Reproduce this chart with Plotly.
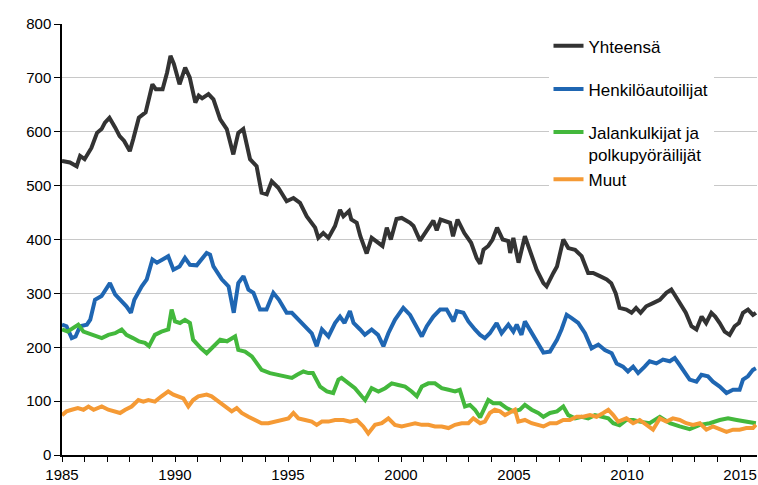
import plotly.graph_objects as go

# ---- data ----
t_total = [1985.0, 1985.35, 1985.65, 1985.8, 1986.0, 1986.15, 1986.3, 1986.55, 1986.75, 1986.9,
           1987.1, 1987.35, 1987.55, 1987.75, 1988.0, 1988.15, 1988.4, 1988.7, 1989.0, 1989.15,
           1989.45, 1989.65, 1989.8, 1989.95, 1990.2, 1990.45, 1990.65, 1990.9, 1991.05, 1991.2,
           1991.48, 1991.7, 1992.0, 1992.29, 1992.58, 1992.8, 1993.02, 1993.32, 1993.61, 1993.83,
           1994.06, 1994.28, 1994.57, 1994.94, 1995.24, 1995.53, 1995.83, 1996.2, 1996.34, 1996.56,
           1996.79, 1997.08, 1997.3, 1997.45, 1997.7, 1997.8, 1998.04, 1998.2, 1998.48, 1998.7,
           1998.8, 1999.18, 1999.37, 1999.55, 1999.8, 2000.03, 2000.4, 2000.55, 2000.84, 2001.14,
           2001.43, 2001.58, 2001.75, 2002.17, 2002.3, 2002.5, 2002.65, 2002.8, 2003.1, 2003.35,
           2003.5, 2003.65, 2003.86, 2004.05, 2004.25, 2004.5, 2004.75, 2004.83, 2004.97, 2005.2,
           2005.48, 2005.7, 2006.0, 2006.3, 2006.44, 2006.74, 2006.9, 2007.18, 2007.4, 2007.7,
           2007.99, 2008.28, 2008.5, 2008.8, 2009.1, 2009.3, 2009.5, 2009.67, 2009.97, 2010.2,
           2010.4, 2010.6, 2010.85, 2011.15, 2011.45, 2011.74, 2011.96, 2012.1, 2012.4, 2012.6,
           2012.85, 2013.07, 2013.3, 2013.5, 2013.73, 2013.9, 2014.1, 2014.32, 2014.54, 2014.76,
           2014.95, 2015.13, 2015.35, 2015.57, 2015.7]
v_total = [546, 543, 536, 555, 549, 558, 570, 598, 605, 617,
           626, 608, 592, 583, 564, 586, 626, 636, 688, 679,
           679, 710, 741, 726, 688, 719, 701, 654, 667, 662,
           670, 660, 623, 605, 558, 598, 605, 549, 536, 487,
           484, 508, 496, 471, 477, 468, 443, 422, 403, 412,
           403, 425, 455, 443, 453, 437, 431, 406, 374, 403,
           400, 388, 422, 400, 438, 440, 431, 425, 398, 417,
           435, 417, 437, 431, 406, 437, 425, 412, 394, 365,
           355, 381, 388, 400, 422, 400, 397, 375, 403, 357,
           406, 381, 344, 319, 313, 338, 350, 400, 384, 381,
           369, 338, 338, 332, 326, 319, 300, 273, 270, 264,
           273, 264, 276, 282, 288, 301, 307, 298, 276, 264,
           239, 233, 257, 245, 264, 257, 245, 229, 223, 239,
           245, 264, 270, 260, 264]

t_car = [1985.0, 1985.2, 1985.43, 1985.6, 1985.8, 1986.1, 1986.25, 1986.46, 1986.75, 1987.12,
         1987.35, 1987.64, 1987.85, 1988.05, 1988.2, 1988.53, 1988.75, 1989.0, 1989.2, 1989.45,
         1989.7, 1989.93, 1990.2, 1990.44, 1990.66, 1990.96, 1991.18, 1991.4, 1991.55, 1991.7,
         1992.07, 1992.37, 1992.6, 1992.8, 1993.03, 1993.25, 1993.47, 1993.76, 1994.05, 1994.35,
         1994.6, 1994.94, 1995.17, 1995.46, 1995.75, 1996.05, 1996.27, 1996.5, 1996.79, 1997.08,
         1997.3, 1997.5, 1997.74, 1997.9, 1998.19, 1998.4, 1998.7, 1998.98, 1999.22, 1999.44,
         1999.73, 2000.1, 2000.4, 2000.7, 2000.92, 2001.14, 2001.43, 2001.73, 2002.02, 2002.32,
         2002.47, 2002.76, 2002.98, 2003.27, 2003.5, 2003.71, 2003.93, 2004.23, 2004.45, 2004.75,
         2004.97, 2005.12, 2005.33, 2005.48, 2005.78, 2006.07, 2006.3, 2006.59, 2006.9, 2007.1,
         2007.33, 2007.55, 2007.84, 2008.14, 2008.43, 2008.73, 2009.02, 2009.32, 2009.54, 2009.82,
         2010.04, 2010.27, 2010.49, 2010.78, 2011.0, 2011.3, 2011.59, 2011.89, 2012.11, 2012.33,
         2012.55, 2012.77, 2013.07, 2013.29, 2013.58, 2013.8, 2014.1, 2014.4, 2014.69, 2014.98,
         2015.13, 2015.35, 2015.57, 2015.7]
v_car = [242, 239, 217, 220, 239, 242, 251, 288, 295, 319,
         298, 285, 276, 264, 288, 313, 326, 363, 357, 363,
         369, 344, 350, 366, 353, 352, 363, 375, 372, 350,
         326, 313, 264, 319, 332, 307, 301, 270, 270, 301,
         288, 264, 264, 251, 239, 226, 202, 233, 220, 245,
         257, 245, 267, 245, 233, 223, 233, 223, 202, 226,
         251, 273, 260, 239, 220, 239, 257, 270, 270, 248,
         267, 264, 248, 233, 223, 217, 226, 245, 226, 242,
         229, 242, 223, 248, 226, 208, 190, 192, 214, 233,
         260, 254, 245, 226, 198, 205, 195, 189, 170, 164,
         155, 164, 152, 164, 174, 170, 177, 174, 180, 167,
         155, 140, 136, 149, 146, 136, 127, 115, 121, 121,
         140, 146, 158, 161]

t_walk = [1985.0, 1985.25, 1985.5, 1985.72, 1985.95, 1986.17, 1986.45, 1986.76, 1987.05, 1987.35,
          1987.64, 1987.85, 1988.14, 1988.4, 1988.67, 1988.85, 1989.11, 1989.4, 1989.7, 1989.85,
          1990.0, 1990.22, 1990.44, 1990.66, 1990.8, 1991.03, 1991.15, 1991.4, 1991.6, 1992.0,
          1992.3, 1992.66, 1992.8, 1993.1, 1993.4, 1993.62, 1993.83, 1994.2, 1994.57, 1994.87,
          1995.17, 1995.4, 1995.68, 1995.9, 1996.1, 1996.42, 1996.72, 1997.0, 1997.23, 1997.37,
          1997.66, 1997.96, 1998.26, 1998.41, 1998.7, 1999.0, 1999.3, 1999.59, 1999.88, 2000.18,
          2000.47, 2000.7, 2000.92, 2001.21, 2001.5, 2001.8, 2002.1, 2002.39, 2002.6, 2002.83,
          2003.05, 2003.27, 2003.5, 2003.71, 2003.86, 2004.08, 2004.38, 2004.67, 2004.97, 2005.26,
          2005.48, 2005.78, 2006.07, 2006.3, 2006.59, 2006.9, 2007.18, 2007.4, 2007.7, 2007.99,
          2008.28, 2008.58, 2008.87, 2009.17, 2009.39, 2009.67, 2009.97, 2010.28, 2010.56, 2011.0,
          2011.45, 2011.9, 2012.33, 2012.77, 2013.22, 2013.66, 2014.1, 2014.47, 2014.85, 2015.28,
          2015.7]
v_walk = [233, 229, 236, 242, 229, 226, 223, 217, 223, 226,
          233, 223, 217, 211, 208, 202, 223, 229, 233, 270,
          248, 245, 251, 245, 214, 202, 198, 189, 198, 214,
          211, 220, 195, 192, 183, 170, 158, 152, 149, 146,
          143, 149, 155, 152, 152, 127, 118, 115, 140, 143,
          133, 124, 109, 102, 124, 118, 124, 133, 130, 127,
          118, 109, 127, 133, 133, 124, 121, 118, 121, 90,
          93, 84, 70, 87, 102, 96, 96, 87, 81, 84,
          93, 84, 78, 71, 78, 81, 90, 74, 68, 71,
          68, 74, 71, 68, 59, 55, 65, 65, 62, 59,
          71, 59, 53, 48, 56, 59, 65, 68, 65, 62,
          59]

t_other = [1985.0, 1985.2, 1985.43, 1985.7, 1985.95, 1986.17, 1986.4, 1986.76, 1987.05, 1987.35,
           1987.57, 1987.8, 1988.08, 1988.38, 1988.6, 1988.82, 1989.11, 1989.4, 1989.7, 1989.93,
           1990.15, 1990.37, 1990.59, 1990.8, 1991.03, 1991.4, 1991.62, 1991.92, 1992.21, 1992.51,
           1992.73, 1992.95, 1993.25, 1993.54, 1993.83, 1994.13, 1994.43, 1994.72, 1995.02, 1995.24,
           1995.46, 1995.76, 1996.05, 1996.27, 1996.5, 1996.79, 1997.08, 1997.45, 1997.75, 1998.04,
           1998.33, 1998.55, 1998.85, 1999.15, 1999.44, 1999.73, 2000.03, 2000.33, 2000.62, 2000.92,
           2001.21, 2001.5, 2001.8, 2002.1, 2002.39, 2002.68, 2002.98, 2003.2, 2003.5, 2003.71,
           2003.93, 2004.15, 2004.38, 2004.6, 2004.82, 2005.04, 2005.19, 2005.48, 2005.78, 2006.07,
           2006.3, 2006.59, 2006.88, 2007.18, 2007.47, 2007.77, 2008.06, 2008.36, 2008.65, 2008.95,
           2009.17, 2009.39, 2009.61, 2009.97, 2010.27, 2010.56, 2010.87, 2011.15, 2011.45, 2011.74,
           2012.03, 2012.33, 2012.62, 2012.92, 2013.22, 2013.51, 2013.8, 2014.1, 2014.4, 2014.69,
           2014.98, 2015.28, 2015.57, 2015.7]
v_other = [74, 81, 84, 87, 84, 90, 84, 90, 84, 81,
           78, 84, 90, 102, 99, 102, 99, 109, 118, 112,
           109, 105, 90, 102, 109, 112, 109, 99, 90, 81,
           87, 78, 71, 65, 59, 59, 62, 65, 68, 78,
           68, 65, 62, 56, 62, 62, 65, 65, 62, 65,
           53, 40, 56, 59, 68, 56, 53, 56, 59, 56,
           56, 53, 53, 50, 56, 59, 59, 68, 59, 62,
           78, 84, 81, 74, 78, 84, 62, 65, 59, 56,
           53, 59, 59, 65, 65, 71, 71, 74, 71, 78,
           84, 74, 62, 68, 59, 65, 56, 47, 68, 62,
           68, 65, 59, 56, 59, 47, 53, 47, 43, 47,
           47, 50, 50, 56]

names = ["Yhteensä", "Henkilöautoilijat", "Jalankulkijat ja<br>polkupyöräilijät", "Muut"]
colors = ["#333333", "#1f66b2", "#43b83c", "#f59a35"]
groups = ["g1", "g2", "g3", "g3"]

x_ticks = list(range(1985, 2016))
x_labels = [str(y) if y % 5 == 0 else "" for y in x_ticks]
y_ticks = list(range(0, 801, 100))

FONT = "Liberation Sans, Arial, sans-serif"

fig = go.Figure()
for t, v, n, c, g in zip([t_total, t_car, t_walk, t_other],
                         [v_total, v_car, v_walk, v_other], names, colors, groups):
    fig.add_trace(go.Scatter(x=t, y=v, mode="lines", name=n, legendgroup=g,
                             line=dict(color=c, width=4)))

fig.update_layout(
    width=758, height=485,
    margin=dict(l=62, r=1, t=24, b=30),
    paper_bgcolor="white", plot_bgcolor="white",
    font=dict(family=FONT, size=15, color="#000"),
    showlegend=True,
    legend=dict(x=0.70, y=0.99, xanchor="left", yanchor="top",
                bgcolor="white", borderwidth=0,
                font=dict(family=FONT, size=17, color="#000"),
                traceorder="grouped", tracegroupgap=18, valign="top"),
    xaxis=dict(range=[1985, 2015.75], tickmode="array", tickvals=x_ticks, ticktext=x_labels,
               ticks="outside", ticklen=5, tickwidth=1.3, tickcolor="#000",
               showline=True, linecolor="#000", linewidth=1.5,
               showgrid=False, zeroline=False, tickfont=dict(size=15)),
    yaxis=dict(range=[0, 800], tickmode="array", tickvals=y_ticks,
               ticks="outside", ticklen=6, tickwidth=1.3, tickcolor="#000",
               showline=True, linecolor="#000", linewidth=1.5,
               showgrid=True, gridcolor="#c8c8c8", gridwidth=1.2,
               zeroline=False, tickfont=dict(size=15)),
    xaxis2=dict(overlaying="x", anchor="y", side="bottom", range=[1985, 2015.75],
                tickmode="array", tickvals=x_ticks, ticks="inside", ticklen=5,
                tickwidth=1.3, tickcolor="#000", showticklabels=False,
                showgrid=False, zeroline=False, showline=False),
    yaxis2=dict(overlaying="y", anchor="x", side="left", range=[0, 800],
                tickmode="array", tickvals=y_ticks, ticks="inside", ticklen=6,
                tickwidth=1.3, tickcolor="#000", showticklabels=False,
                showgrid=False, zeroline=False, showline=False),
)

fig.write_html("out.html", config={"displayModeBar": False},
               post_script="document.body.style.margin='0';")
